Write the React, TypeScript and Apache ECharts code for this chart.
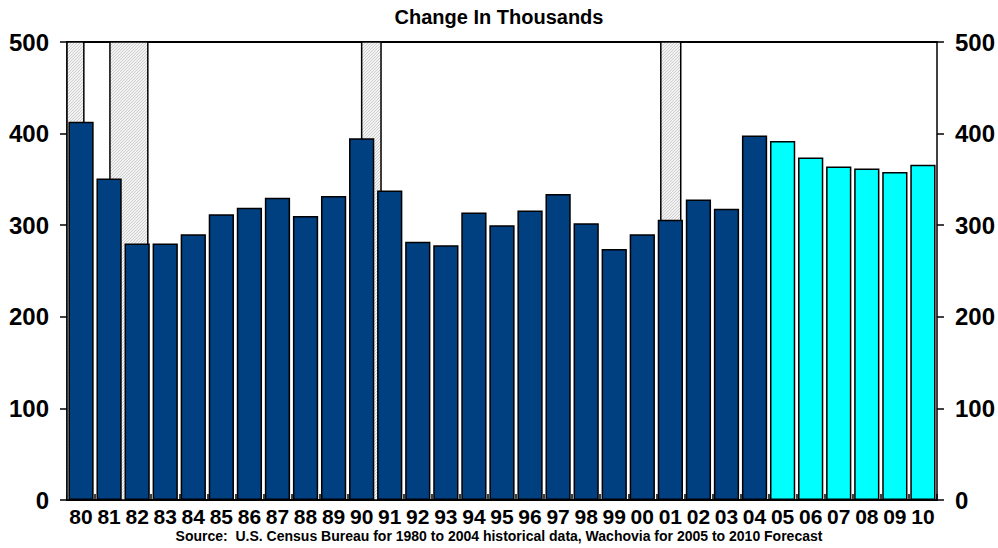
import React, { useEffect, useRef } from "react";
import * as echarts from "echarts";

// Yearly change, thousands
const years = ["80","81","82","83","84","85","86","87","88","89","90","91","92","93","94","95","96","97","98","99","00","01","02","03","04","05","06","07","08","09","10"];
const historical = [413, 351, 280, 280, 290, 312, 319, 330, 310, 332, 395, 338, 282, 278, 314, 300, 316, 334, 302, 274, 290, 306, 328, 318, 398];
const forecast = [392, 374, 364, 362, 358, 366];
const yTicks = [0, 100, 200, 300, 400, 500];

// Recession periods as fractional years (start, end)
const recessions: [number, number][] = [
  [1980.0, 1980.6],
  [1981.53, 1982.88],
  [1990.5, 1991.19],
  [2001.16, 2001.87],
];

const FONT = "'Liberation Sans', Arial, sans-serif";
const BLUE = "#003F80";
const CYAN = "#00FFFF";

function hatchPattern(): HTMLCanvasElement {
  const c = document.createElement("canvas");
  c.width = 3;
  c.height = 3;
  const ctx = c.getContext("2d")!;
  ctx.fillStyle = "#f2f2f2";
  ctx.fillRect(0, 0, 3, 3);
  ctx.fillStyle = "#cfcfcf";
  ctx.fillRect(2, 0, 1, 1);
  ctx.fillRect(1, 1, 1, 1);
  ctx.fillRect(0, 2, 1, 1);
  return c;
}

export default function App() {
  const ref = useRef<HTMLDivElement>(null);

  useEffect(() => {
    if (!ref.current) return;
    const chart = echarts.init(ref.current, null, { renderer: "svg" });

    const histData = years.map((_, i) => (i < historical.length ? historical[i] : null));
    const fcData = years.map((_, i) => (i >= historical.length ? forecast[i - historical.length] : null));

    const yAxisCommon = {
      type: "value" as const,
      min: 0,
      max: 500,
      interval: 100,
      splitLine: { show: false },
      axisLine: { show: true, lineStyle: { color: "#000", width: 1.5 } },
      axisTick: { show: true, length: 7, lineStyle: { color: "#000", width: 1.5 } },
      axisLabel: {
        color: "#000",
        fontFamily: FONT,
        fontWeight: "bold" as const,
        fontSize: 24,
        margin: 18,
        customValues: yTicks,
      },
    };

    chart.setOption({
      animation: false,
      title: {
        text: "Change In Thousands",
        left: "center",
        top: 2,
        textStyle: { fontFamily: FONT, fontWeight: "bold", fontSize: 20, color: "#000" },
      },
      graphic: [
        {
          type: "text",
          left: "center",
          top: 529,
          style: {
            text: "Source:  U.S. Census Bureau for 1980 to 2004 historical data, Wachovia for 2005 to 2010 Forecast",
            font: `bold 14px ${FONT}`,
            fill: "#000",
          },
        },
      ],
      grid: { left: 67, right: 58, top: 42, bottom: 48, containLabel: false },
      xAxis: [
        {
          type: "category",
          data: years,
          axisLine: { show: true, lineStyle: { color: "#000", width: 2 } },
          axisTick: { show: true, inside: true, length: 6, lineStyle: { color: "#000", width: 1.5 } },
          axisLabel: {
            color: "#000",
            fontFamily: FONT,
            fontWeight: "bold",
            fontSize: 21,
            margin: 6,
            interval: 0,
          },
        },
        {
          type: "value",
          min: 1980,
          max: 2011,
          show: false,
          position: "top",
        },
        {
          type: "value",
          min: 0,
          max: 1,
          position: "top",
          show: true,
          axisLine: { show: true, onZero: false, lineStyle: { color: "#000", width: 2 } },
          axisTick: { show: false },
          axisLabel: { show: false },
          splitLine: { show: false },
        },
      ],
      yAxis: [
        { ...yAxisCommon, position: "left" },
        { ...yAxisCommon, position: "right" },
      ],
      series: [
        {
          type: "line",
          xAxisIndex: 1,
          yAxisIndex: 0,
          data: [],
          z: 1,
          silent: true,
          markArea: {
            silent: true,
            itemStyle: {
              color: { image: hatchPattern(), repeat: "repeat" },
              borderColor: "#000",
              borderWidth: 1.5,
            },
            data: recessions.map(([s, e]) => [{ xAxis: s }, { xAxis: e }]),
          },
        },
        {
          type: "bar",
          name: "Historical",
          data: histData,
          stack: "total",
          barCategoryGap: "10%",
          z: 3,
          itemStyle: { color: BLUE, borderColor: "#000", borderWidth: 1.5 },
        },
        {
          type: "bar",
          name: "Forecast",
          data: fcData,
          stack: "total",
          barCategoryGap: "10%",
          z: 3,
          itemStyle: { color: CYAN, borderColor: "#000", borderWidth: 1.5 },
        },
      ],
    });

    return () => chart.dispose();
  }, []);

  return <div ref={ref} style={{ width: 998, height: 548, position: "absolute", left: 0, top: 0 }} />;
}
